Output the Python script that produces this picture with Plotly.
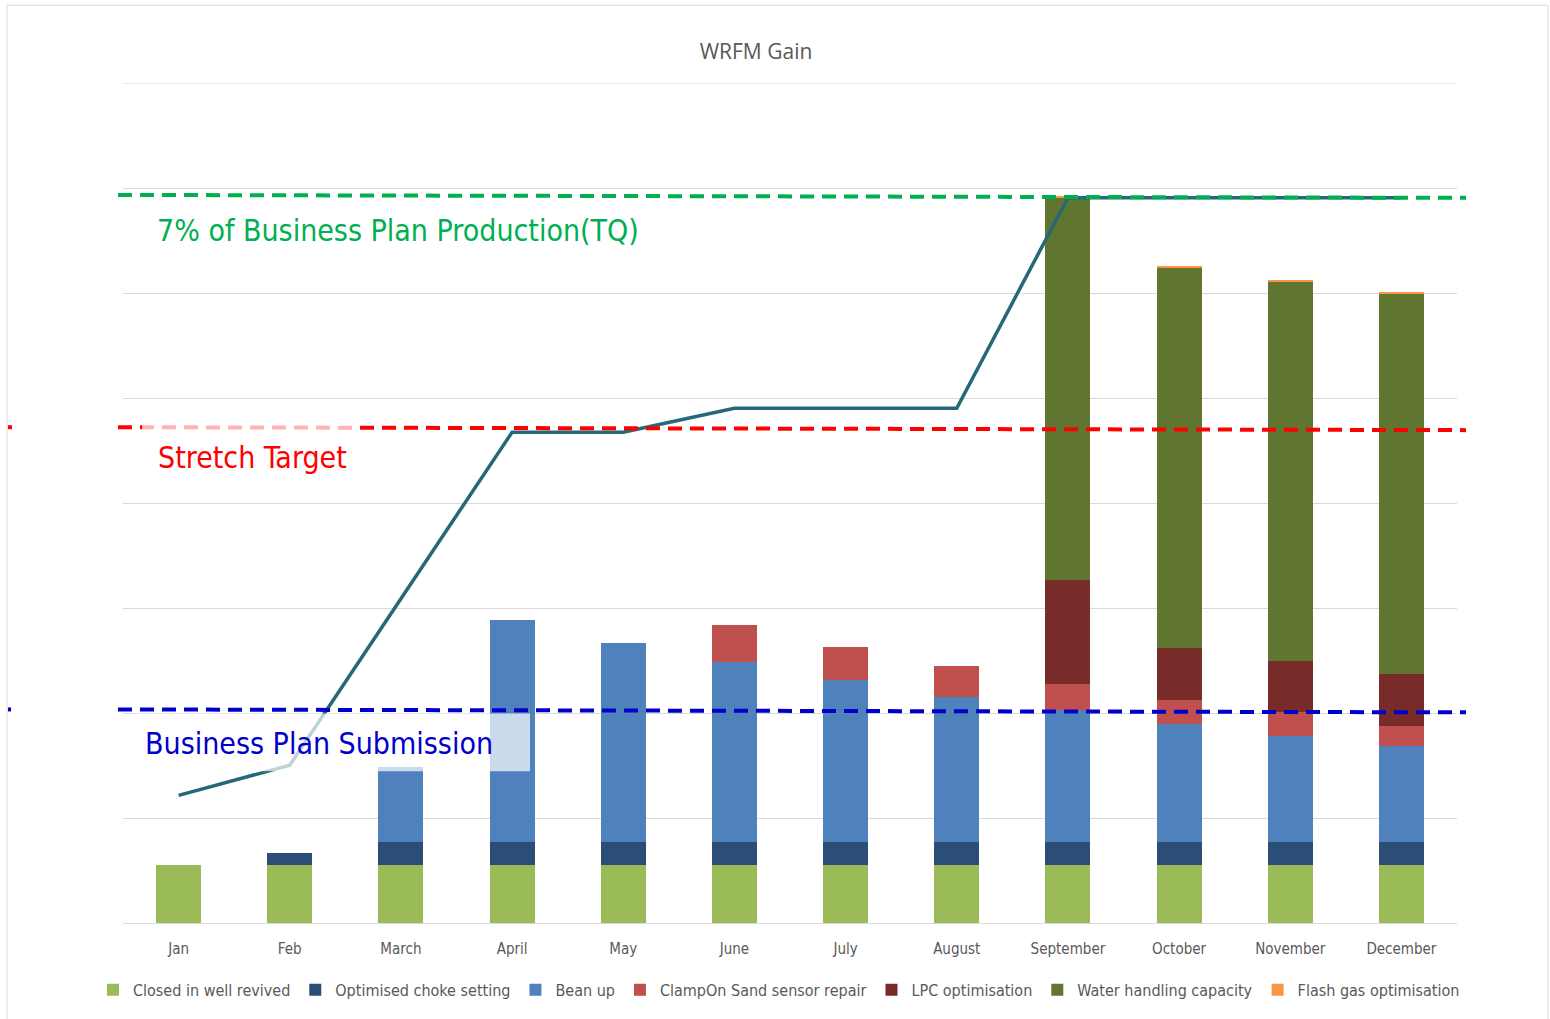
import plotly.graph_objects as go

# ---- data -------------------------------------------------------------
months = ["Jan", "Feb", "March", "April", "May", "June", "July",
          "August", "September", "October", "November", "December"]

closed_in_well_revived = [27.7] * 12
optimised_choke_setting = [0, 5.6, 11.1, 11.1, 11.1, 11.1, 11.1, 11.1, 11.1, 11.1, 11.1, 11.1]
bean_up = [0, 0, 35.3, 105.3, 94.5, 85.5, 76.8, 68.9, 62.4, 55.9, 50.4, 45.6]
clampon_sand_sensor_repair = [0, 0, 0, 0, 0, 17.7, 15.9, 14.5, 12.8, 11.7, 11.1, 9.3]
lpc_optimisation = [0, 0, 0, 0, 0, 0, 0, 0, 49.5, 24.7, 24.4, 24.7]
water_handling_capacity = [0, 0, 0, 0, 0, 0, 0, 0, 181.8, 180.9, 181.0, 181.2]
flash_gas_optimisation = [0, 0, 0, 0, 0, 0, 0, 0, 0.6, 0.7, 0.7, 0.7]

cumulative_gain = [60.8, 75.1, 154.4, 233.7, 233.7, 245.1, 245.1, 245.1,
                   345.4, 345.4, 345.4, 345.4]

tq_target = 346.0          # 7% of Business Plan Production (TQ)
stretch_target = 235.4
business_plan = 101.0

series = [
    ("Closed in well revived", closed_in_well_revived, "#9BBB59"),
    ("Optimised choke setting", optimised_choke_setting, "#2C4D75"),
    ("Bean up", bean_up, "#4F81BD"),
    ("ClampOn Sand sensor repair", clampon_sand_sensor_repair, "#C0504D"),
    ("LPC optimisation", lpc_optimisation, "#772C2A"),
    ("Water handling capacity", water_handling_capacity, "#5F7530"),
    ("Flash gas optimisation", flash_gas_optimisation, "#F79646"),
]

# ---- geometry helpers (pixel -> paper / data) -------------------------
W, H = 1550, 1019
ML, MR, MT, MB = 123, 93, 83, 94
PW, PH = W - ML - MR, H - MT - MB
YMAX = 400.0


def px(x):
    return (x - ML) / PW


def py(y):
    return (H - MB - y) / PH


def vy(y):
    return (H - MB - y) * YMAX / PH


fig = go.Figure()

for name, vals, color in series:
    fig.add_trace(go.Bar(
        x=months, y=vals, name=name,
        marker=dict(color=color, line=dict(width=0)),
    ))

fig.add_trace(go.Scatter(
    x=months, y=cumulative_gain, mode="lines", showlegend=False,
    line=dict(color="#276878", width=3.5), name="Cumulative gain",
))

DASH = "14px,8px"
shapes = []

# outer frame
shapes.append(dict(type="rect", xref="paper", yref="paper",
                   x0=px(7), x1=px(1548), y0=py(1030), y1=py(5),
                   line=dict(color="#D9D9D9", width=1), fillcolor="rgba(0,0,0,0)",
                   layer="below"))
# top gridline
shapes.append(dict(type="line", xref="paper", yref="y", x0=0, x1=1, y0=YMAX, y1=YMAX,
                   line=dict(color="#D9D9D9", width=1), layer="below"))

# TQ target
shapes.append(dict(type="line", xref="paper", yref="y",
                   x0=px(118), x1=px(1466), y0=tq_target + 0.7, y1=tq_target - 0.7,
                   line=dict(color="#00B050", width=4, dash=DASH)))

# stretch target
shapes.append(dict(type="line", xref="paper", yref="y",
                   x0=px(118), x1=px(1466), y0=stretch_target + 0.7, y1=stretch_target - 0.7,
                   line=dict(color="#FF0000", width=4, dash=DASH)))
shapes.append(dict(type="line", xref="paper", yref="y",
                   x0=px(8), x1=px(12), y0=stretch_target + 0.7, y1=stretch_target + 0.7,
                   line=dict(color="#FF0000", width=4)))
# label box for stretch target
shapes.append(dict(type="rect", xref="paper", yref="y",
                   x0=px(142), x1=px(360), y0=vy(490), y1=vy(424),
                   line=dict(width=0), fillcolor="rgba(255,255,255,0.7)"))

# label box for business plan submission
shapes.append(dict(type="rect", xref="paper", yref="y",
                   x0=px(135), x1=px(530), y0=vy(773), y1=vy(715),
                   line=dict(width=0), fillcolor="rgba(255,255,255,0.7)"))

# business plan submission
shapes.append(dict(type="line", xref="paper", yref="y",
                   x0=px(118), x1=px(1466), y0=business_plan + 0.7, y1=business_plan - 0.7,
                   line=dict(color="#0000CC", width=4, dash=DASH)))
shapes.append(dict(type="line", xref="paper", yref="y",
                   x0=px(8), x1=px(11), y0=business_plan + 0.7, y1=business_plan + 0.7,
                   line=dict(color="#0000CC", width=4)))

LABEL_FONT = "Liberation Sans Narrow, Arial Narrow, DejaVu Sans Condensed, sans-serif"
annotations = [
    dict(text="7% of Business Plan Production(TQ)", xref="paper", yref="y",
         x=px(155), y=vy(231), xanchor="left", yanchor="middle",
         showarrow=False, font=dict(family=LABEL_FONT, size=30, color="#00B050")),
    dict(text="Stretch Target", xref="paper", yref="y",
         x=px(156), y=vy(458), xanchor="left", yanchor="middle",
         showarrow=False, font=dict(family=LABEL_FONT, size=30, color="#FF0000")),
    dict(text="Business Plan Submission", xref="paper", yref="y",
         x=px(143), y=vy(745), xanchor="left", yanchor="middle",
         showarrow=False, font=dict(family=LABEL_FONT, size=30, color="#0000CC")),
]

fig.update_layout(
    width=W, height=H,
    margin=dict(l=ML, r=MR, t=MT, b=MB),
    paper_bgcolor="white", plot_bgcolor="white",
    barmode="stack", bargap=0.595,
    title=dict(text="WRFM Gain", xref="container", x=756 / W, xanchor="center",
               yref="container", y=1 - 52 / H, yanchor="middle",
               font=dict(family="Open Sans, sans-serif", size=21, color="#595959")),
    font=dict(family="Open Sans, sans-serif", color="#595959"),
    xaxis=dict(showgrid=False, showline=True, linecolor="#D9D9D9", linewidth=1,
               ticks="", ticklabelstandoff=12,
               tickfont=dict(family=LABEL_FONT, size=15, color="#595959")),
    yaxis=dict(range=[0, YMAX], dtick=50, showticklabels=False, ticks="",
               showgrid=True, gridcolor="#D9D9D9", gridwidth=1,
               zeroline=False, showline=False),
    legend=dict(orientation="h", x=px(93), xanchor="left", y=py(992),
                yanchor="middle", traceorder="normal",
                font=dict(family=LABEL_FONT, size=16, color="#595959"),
                itemwidth=30, tracegroupgap=0),
    shapes=shapes,
    annotations=annotations,
)

fig.write_html("out.html")
